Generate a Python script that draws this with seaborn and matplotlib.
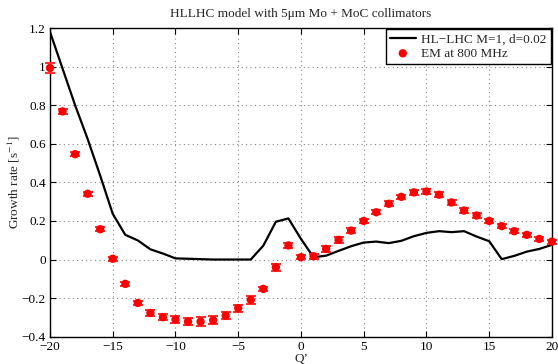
import numpy as np
import pandas as pd
import matplotlib
matplotlib.use("Agg")
import matplotlib.pyplot as plt
import seaborn as sns

# Chromaticity scan
q_prime = list(range(-20, 21))

# HL-LHC model prediction (M=1, d=0.02)
model_growth = [1.18, 0.99, 0.80, 0.625, 0.435, 0.237, 0.128, 0.099, 0.053, 0.031,
                0.006, 0.004, 0.002, 0.0, 0.0, 0.0, 0.0, 0.072, 0.196, 0.213,
                0.107, 0.012, 0.020, 0.045, 0.069, 0.088, 0.093, 0.085, 0.097, 0.121,
                0.138, 0.147, 0.142, 0.147, 0.119, 0.095, 0.002, 0.019, 0.041, 0.055,
                0.076]

# Eigenmode solver at 800 MHz, with uncertainties
em_growth = [0.993, 0.768, 0.546, 0.341, 0.157, 0.004, -0.126, -0.225, -0.277, -0.299,
             -0.311, -0.322, -0.322, -0.315, -0.291, -0.252, -0.209, -0.152, -0.040, 0.073,
             0.012, 0.017, 0.055, 0.102, 0.150, 0.200, 0.245, 0.289, 0.325, 0.348,
             0.353, 0.336, 0.296, 0.254, 0.228, 0.200, 0.173, 0.147, 0.128, 0.107,
             0.093]
em_error = [0.028, 0.014, 0.010, 0.010, 0.010, 0.010, 0.010, 0.012, 0.014, 0.016,
            0.017, 0.019, 0.022, 0.020, 0.018, 0.018, 0.022, 0.010, 0.018, 0.012,
            0.010, 0.012, 0.016, 0.014, 0.014, 0.010, 0.010, 0.012, 0.012, 0.014,
            0.015, 0.014, 0.014, 0.012, 0.012, 0.010, 0.010, 0.010, 0.010, 0.010,
            0.010]

df_model = pd.DataFrame({"Q": q_prime, "rate": model_growth})
df_em = pd.DataFrame({"Q": q_prime, "rate": em_growth, "err": em_error})

sns.set_style("white")
plt.rcParams["font.family"] = ["Liberation Serif", "DejaVu Serif"]
plt.rcParams["mathtext.fontset"] = "stix"

FS = 9.5

fig = plt.figure(figsize=(5.58, 3.64), dpi=100)
ax = fig.add_axes([0.0896, 0.075, 0.8995, 0.848])

sns.lineplot(data=df_model, x="Q", y="rate", ax=ax, color="black", linewidth=1.6,
             label="HL\u2212LHC M=1, d=0.02", zorder=3)
ax.errorbar(df_em["Q"], df_em["rate"], yerr=df_em["err"], fmt="none",
            ecolor="#ff3030", elinewidth=1.0, capsize=3.3, capthick=1.5,
            zorder=4, clip_on=False)
sns.scatterplot(data=df_em, x="Q", y="rate", ax=ax, color="red", s=36,
                edgecolor="none", label="EM at 800 MHz", zorder=5, clip_on=False)

ax.set_xlim(-20, 20)
ax.set_ylim(-0.4, 1.2)
xt = list(range(-20, 21, 5))
ax.set_xticks(xt)
ax.set_xticklabels([f"\u2212{abs(v)}" if v < 0 else f"{v}" for v in xt])
yt = [-0.4, -0.2, 0.0, 0.2, 0.4, 0.6, 0.8, 1.0, 1.2]
ax.set_yticks(yt)
ylab = []
for v in yt:
    if v == 0:
        ylab.append("0")
    elif v == 1.0:
        ylab.append("1")
    elif v < 0:
        ylab.append(f"\u2212{abs(v):g}")
    else:
        ylab.append(f"{v:g}")
ax.set_yticklabels(ylab)

ax.grid(True, linestyle=(0, (1, 3)), color="#888888", linewidth=0.8)
ax.tick_params(direction="in", length=4, width=0.8, labelsize=FS, colors="black",
               top=True, right=True, bottom=True, left=True, pad=3)
for sp in ax.spines.values():
    sp.set_color("black")
    sp.set_linewidth(1.0)

ax.set_xlabel("Q\u2019", fontsize=FS, labelpad=0)
ax.set_ylabel("Growth rate [s$^{-1}$]", fontsize=FS, labelpad=0)
ax.set_title("HLLHC model with 5\u03bcm Mo + MoC collimators", fontsize=FS, pad=8)

leg = ax.legend(loc="upper right", fontsize=FS, frameon=True, fancybox=False,
                borderaxespad=0.1, handlelength=2.0, handletextpad=0.4,
                borderpad=0.3, labelspacing=0.15)
leg.get_frame().set_edgecolor("black")
leg.get_frame().set_linewidth(1.0)
leg.get_frame().set_alpha(1)

fig.savefig("out.png", dpi=100)
